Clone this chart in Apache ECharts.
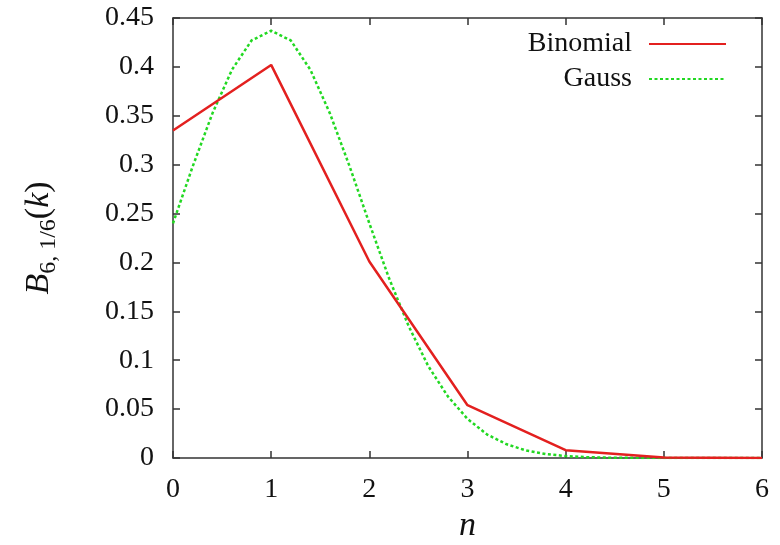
<!DOCTYPE html>
<html>
<head>
<meta charset="utf-8">
<script src="https://cdn.jsdelivr.net/npm/echarts@6/dist/echarts.min.js"></script>
<style>
  html, body { margin: 0; padding: 0; background: #fff; }
  #chart { width: 780px; height: 545px; }
</style>
</head>
<body>
<div id="chart"></div>
<script>
// binomial B(6, 1/6) at n = 0..6
const binomX = [0, 1, 2, 3, 4, 5, 6];
const binomY = [0.335, 0.402, 0.201, 0.054, 0.008, 0.0006, 0.0000];

// gaussian approximation, every 0.2
const gaussX = [0, 0.2, 0.4, 0.6, 0.8, 1, 1.2, 1.4, 1.6, 1.8, 2, 2.2, 2.4, 2.6, 2.8, 3,
  3.2, 3.4, 3.6, 3.8, 4, 4.2, 4.4, 4.6, 4.8, 5, 5.2, 5.4, 5.6, 5.8, 6];
const gaussY = [0.240, 0.298, 0.352, 0.397, 0.427, 0.437, 0.427, 0.397, 0.352, 0.298, 0.240,
  0.184, 0.135, 0.094, 0.063, 0.040, 0.024, 0.014, 0.0076, 0.0040, 0.0020, 0.0009, 0.0004,
  0.0002, 0.0001, 0, 0, 0, 0, 0, 0];

const xTicks = { min: 0, max: 6, interval: 1 };
const yTicks = { min: 0, max: 0.45, interval: 0.05 };

const font = 'Liberation Serif';
const axisColor = '#333';

const zip = (xs, ys) => xs.map((x, i) => [x, ys[i]]);

const chart = echarts.init(document.getElementById('chart'));

const baseAxis = {
  type: 'value',
  axisLine: { show: true, onZero: false, lineStyle: { color: axisColor, width: 1.5 } },
  axisTick: { show: true, inside: true, length: 7, lineStyle: { color: axisColor, width: 1.5 } },
  splitLine: { show: false }
};

chart.setOption({
  backgroundColor: '#fff',
  animation: false,
  grid: { left: 173, right: 18, top: 18, bottom: 87, outerBoundsMode: 'none' },
  legend: {
    orient: 'vertical',
    right: 48,
    top: 25,
    align: 'right',
    itemWidth: 77,
    itemHeight: 14,
    itemGap: 7,
    itemStyle: { opacity: 0 },
    textStyle: { fontFamily: font, fontSize: 28, color: '#111', padding: [0, 12, 0, 0] },
    data: ['Binomial', 'Gauss']
  },
  xAxis: [
    Object.assign({}, baseAxis, {
      min: xTicks.min, max: xTicks.max, interval: xTicks.interval,
      position: 'bottom',
      axisLabel: {
        fontFamily: font, fontSize: 28, color: '#111', margin: 18,
        formatter: v => String(v)
      },
      name: 'n',
      nameLocation: 'middle',
      nameGap: 45,
      nameTextStyle: { fontFamily: font, fontSize: 34, fontStyle: 'italic', color: '#111' }
    }),
    Object.assign({}, baseAxis, {
      min: xTicks.min, max: xTicks.max, interval: xTicks.interval,
      position: 'top',
      axisLabel: { show: false }
    })
  ],
  yAxis: [
    Object.assign({}, baseAxis, {
      min: yTicks.min, max: yTicks.max, interval: yTicks.interval,
      position: 'left',
      axisLabel: {
        fontFamily: font, fontSize: 28, color: '#111', margin: 19,
        formatter: v => String(+v.toFixed(2))
      },
      name: '{b|B}{s|6, 1/6}{p|(}{b|k}{p|)}',
      nameLocation: 'middle',
      nameRotate: 90,
      nameGap: 112,
      nameTextStyle: {
        color: '#111',
        rich: {
          b: { fontFamily: font, fontSize: 34, fontStyle: 'italic', color: '#111', lineHeight: 44, verticalAlign: 'middle' },
          p: { fontFamily: font, fontSize: 34, color: '#111', lineHeight: 44, verticalAlign: 'middle' },
          s: { fontFamily: font, fontSize: 24, color: '#111', lineHeight: 24, verticalAlign: 'bottom' }
        }
      }
    }),
    Object.assign({}, baseAxis, {
      min: yTicks.min, max: yTicks.max, interval: yTicks.interval,
      position: 'right',
      axisLabel: { show: false }
    })
  ],
  series: [
    {
      name: 'Binomial',
      type: 'line',
      data: zip(binomX, binomY),
      symbol: 'none',
      color: '#e3201f',
      lineStyle: { color: '#e3201f', width: 2.5 },
      z: 3
    },
    {
      name: 'Gauss',
      type: 'line',
      data: zip(gaussX, gaussY),
      symbol: 'none',
      color: '#22d822',
      lineStyle: { color: '#22d822', width: 2.5, type: [3, 2.5] },
      z: 2
    }
  ]
});
</script>
</body>
</html>
